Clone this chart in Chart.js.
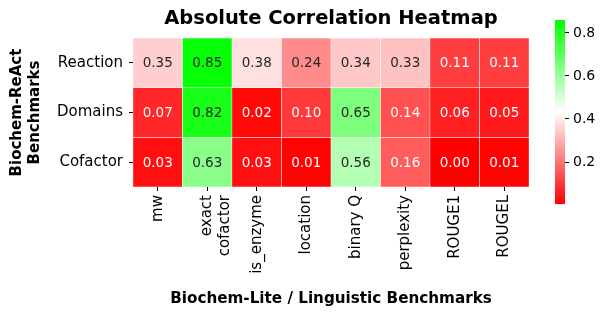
<!DOCTYPE html>
<html>
<head>
<meta charset="utf-8">
<script src="https://cdn.jsdelivr.net/npm/chart.js@4.4.1/dist/chart.umd.min.js"></script>
<style>
  html, body { margin: 0; padding: 0; background: #fff; }
  #wrap { position: relative; width: 605px; height: 316px; }
  #heat { position: absolute; left: 0; top: 0; }
  #cbar { position: absolute; left: 540px; top: 0; }
</style>
</head>
<body>
<div id="wrap">
  <canvas id="heat" width="545" height="316"></canvas>
  <canvas id="cbar" width="65" height="316"></canvas>
</div>
<script>
// --- DATOS ---
const rowLabels = ['Reaction', 'Domains', 'Cofactor'];
const colLabels = ['mw', ['exact', 'cofactor'], 'is_enzyme', 'location', 'binary Q', 'perplexity', 'ROUGE1', 'ROUGEL'];
const reactionVals = [0.35, 0.85, 0.38, 0.24, 0.34, 0.33, 0.11, 0.11];
const domainsVals  = [0.07, 0.82, 0.02, 0.10, 0.65, 0.14, 0.06, 0.05];
const cofactorVals = [0.03, 0.63, 0.03, 0.01, 0.56, 0.16, 0.00, 0.01];
const cbarTicks = [0.2, 0.4, 0.6, 0.8];
const vmin = 0.005, vmax = 0.86;

const rows = [reactionVals, domainsVals, cofactorVals];
const FONT = "'DejaVu Sans', sans-serif";
Chart.defaults.font.family = FONT;
Chart.defaults.color = '#000';

// red -> white -> green
function cellRGB(v) {
    let t = (v - vmin) / (vmax - vmin);
    t = Math.max(0, Math.min(1, t));
    if (t < 0.5) {
        const s = Math.round(255 * t / 0.5);
        return [255, s, s];
    }
    const s = Math.round(255 * (1 - (t - 0.5) / 0.5));
    return [s, 255, s];
}
function lum(rgb) {
    const lin = rgb.map(c => { c /= 255; return c <= 0.03928 ? c / 12.92 : Math.pow((c + 0.055) / 1.055, 2.4); });
    return 0.2126 * lin[0] + 0.7152 * lin[1] + 0.0722 * lin[2];
}

// --- ETIQUETAS EN CELDAS ---
const annotate = {
    id: 'annotate',
    afterDatasetsDraw(chart) {
        const ctx = chart.ctx;
        ctx.save();
        ctx.font = '13.5px ' + FONT;
        ctx.textAlign = 'center';
        ctx.textBaseline = 'middle';
        chart.data.datasets.forEach((ds, di) => {
            const meta = chart.getDatasetMeta(di);
            meta.data.forEach((el, i) => {
                const v = rows[di][i];
                ctx.fillStyle = lum(cellRGB(v)) > 0.408 ? '#262626' : '#ffffff';
                ctx.fillText(v.toFixed(2), el.x, (el.y + el.base) / 2 + 1);
            });
        });
        ctx.restore();
    }
};

new Chart(document.getElementById('heat'), {
    type: 'bar',
    data: {
        labels: colLabels,
        datasets: rows.map((vals, r) => ({
            label: rowLabels[r],
            data: vals.map(() => 1),
            backgroundColor: vals.map(v => 'rgb(' + cellRGB(v).join(',') + ')'),
            borderColor: '#ffffff',
            borderWidth: 0.5,
            borderSkipped: false,
            barPercentage: 1,
            categoryPercentage: 1
        }))
    },
    options: {
        responsive: false,
        animation: false,
        layout: { padding: { left: 0, right: 16, top: 0, bottom: 0 } },
        plugins: { legend: { display: false }, tooltip: { enabled: false } },
        scales: {
            x: {
                stacked: true,
                grid: { offset: false, drawOnChartArea: false, drawTicks: true, tickLength: 4, color: '#000' },
                border: { display: false },
                ticks: { minRotation: 90, maxRotation: 90, padding: 4, font: { size: 15 }, color: '#000' },
                title: {
                    display: true,
                    text: 'Biochem-Lite / Linguistic Benchmarks',
                    font: { size: 15.2, weight: 'bold' },
                    color: '#000',
                    padding: { top: 0, bottom: 8 }
                },
                afterFit(scale) { scale.height = 129; }
            },
            xTop: {
                type: 'category',
                position: 'top',
                grid: { display: false },
                border: { display: false },
                ticks: { display: false },
                title: {
                    display: true,
                    text: 'Absolute Correlation Heatmap',
                    font: { size: 19.5, weight: 'bold' },
                    color: '#000',
                    padding: { top: 7, bottom: 0 }
                },
                afterFit(scale) { scale.height = 38; }
            },
            y: {
                stacked: true,
                reverse: true,
                min: 0,
                max: 3,
                grid: { drawOnChartArea: false, drawTicks: true, tickLength: 4, color: '#000' },
                border: { display: false },
                afterBuildTicks(scale) { scale.ticks = rowLabels.map((r, i) => ({ value: i + 0.5 })); },
                ticks: {
                    padding: 6,
                    font: { size: 15 },
                    color: '#000',
                    callback: (v) => rowLabels[Math.floor(v)]
                },
                title: {
                    display: true,
                    text: ['Biochem-ReAct', 'Benchmarks'],
                    font: { size: 15, weight: 'bold' },
                    color: '#000',
                    padding: { top: 8, bottom: 0 }
                },
                afterFit(scale) { scale.width = 133; }
            }
        }
    },
    plugins: [annotate]
});

// --- BARRA DE COLOR ---
new Chart(document.getElementById('cbar'), {
    type: 'bar',
    data: {
        labels: [''],
        datasets: [{
            data: [[vmin, vmax]],
            backgroundColor(ctx) {
                const area = ctx.chart.chartArea;
                if (!area) return '#fff';
                const g = ctx.chart.ctx.createLinearGradient(0, area.bottom, 0, area.top);
                g.addColorStop(0, 'rgb(255,0,0)');
                g.addColorStop(0.5, 'rgb(255,255,255)');
                g.addColorStop(1, 'rgb(0,255,0)');
                return g;
            },
            borderWidth: 0,
            barPercentage: 1,
            categoryPercentage: 1
        }]
    },
    options: {
        responsive: false,
        animation: false,
        layout: { padding: { left: 15, right: 0, top: 20, bottom: 112 } },
        plugins: { legend: { display: false }, tooltip: { enabled: false } },
        scales: {
            x: { display: false },
            y: {
                position: 'right',
                min: vmin,
                max: vmax,
                grid: { drawOnChartArea: false, drawTicks: true, tickLength: 4, color: '#000' },
                border: { display: false },
                afterBuildTicks(scale) { scale.ticks = cbarTicks.map(v => ({ value: v })); },
                ticks: { padding: 4, font: { size: 14 }, color: '#000', callback: (v) => v.toFixed(1) },
                afterFit(scale) { scale.width = 40; }
            }
        }
    }
});
</script>
</body>
</html>
